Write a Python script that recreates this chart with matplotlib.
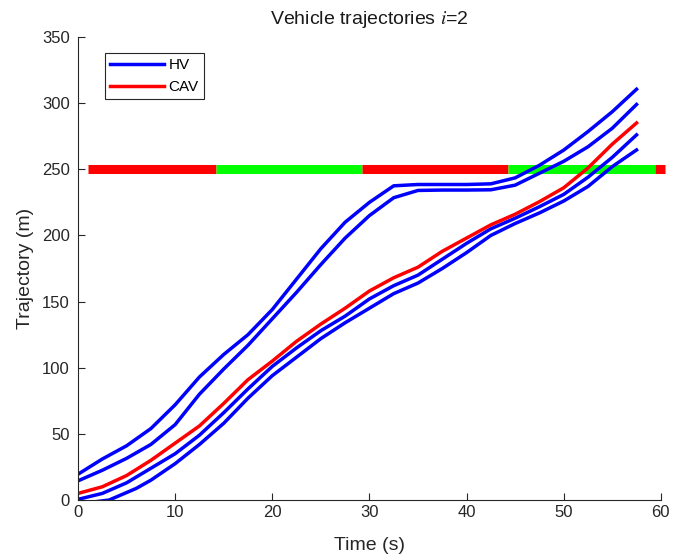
import matplotlib
matplotlib.use('Agg')
import matplotlib.pyplot as plt

plt.rcParams['font.family'] = ['Liberation Sans', 'DejaVu Sans']
plt.rcParams['mathtext.fontset'] = 'stix'

# trayectorias (t en s, posicion en m)
t_hv1 = [0, 2.5, 5, 7.5, 10, 12.5, 15, 17.5, 20, 22.5, 25, 27.5, 30, 32.5,
         35, 37.5, 40, 42.5, 45, 47.5, 50, 52.5, 55, 57.5]
x_hv1 = [19.5, 31, 41, 54, 72, 93, 110, 125, 144, 167, 190, 210, 225, 237.5,
         238.5, 238.5, 238.5, 239, 243.5, 253, 264.5, 278.5, 293.5, 310.5]

t_hv2 = [0, 2.5, 5, 7.5, 10, 12.5, 15, 17.5, 20, 22.5, 25, 27.5, 30, 32.5,
         35, 37.5, 40, 42.5, 45, 47.5, 50, 52.5, 55, 57.5]
x_hv2 = [14.5, 22.5, 31.5, 42, 57, 80, 99, 117, 137, 157, 178, 198, 215,
         228.5, 234, 234.3, 234.3, 234.5, 238, 247, 256, 267, 281, 299]

t_cav = [0, 2.5, 5, 7.5, 10, 12.5, 15, 17.5, 20, 22.5, 25, 27.5, 30, 32.5,
         35, 37.5, 40, 42.5, 45, 47.5, 50, 52.5, 55, 57.5]
x_cav = [5, 10, 18.5, 30, 43, 56, 73, 91, 105, 120, 133, 145, 158, 168,
         176, 188, 198, 208, 216, 225.5, 236, 251, 269, 285]

t_hv3 = [0, 2.5, 5, 7.5, 10, 12.5, 15, 17.5, 20, 22.5, 25, 27.5, 30, 32.5,
         35, 37.5, 40, 42.5, 45, 47.5, 50, 52.5, 55, 57.5]
x_hv3 = [0.5, 5, 13, 24, 35, 49, 66, 84, 101, 115, 128, 139, 152, 162,
         170, 182, 194, 205, 213, 221.7, 231, 244, 259, 276]

t_hv4 = [0, 3.2, 6, 7.5, 10, 12.5, 15, 17.5, 20, 22.5, 25, 27.5, 30, 32.5,
         35, 37.5, 40, 42.5, 45, 47.5, 50, 52.5, 55, 57.5]
x_hv4 = [-3, 0, 8.8, 15, 27.5, 42, 58, 77, 94, 108, 122, 134, 145, 156,
         164, 175, 187, 200, 209, 217, 226, 237, 252, 264.6]

# semaforo en x=250
sig_edges = [1, 14.2, 29.2, 44.3, 59.4, 60.4]
sig_colors = [(1, 0, 0), (0, 1, 0), (1, 0, 0), (0, 1, 0), (1, 0, 0)]
sig_pos = 250

fig = plt.figure(figsize=(6.75, 5.57), dpi=100)
ax = fig.add_axes([0.1156, 0.1023, 0.8634, 0.8313])

for i in range(len(sig_colors)):
    ax.plot(sig_edges[i:i + 2], [sig_pos, sig_pos], color=sig_colors[i],
            lw=6.5, solid_capstyle='butt', clip_on=False)

blue = (0, 0, 1)
red = (1, 0, 0)
lw = 2.5
ax.plot(t_hv1, x_hv1, color=blue, lw=lw, label='HV')
ax.plot(t_hv2, x_hv2, color=blue, lw=lw)
ax.plot(t_hv3, x_hv3, color=blue, lw=lw)
ax.plot(t_hv4, x_hv4, color=blue, lw=lw)
ax.plot(t_cav, x_cav, color=red, lw=lw, label='CAV')

ax.set_xlim(0, 60)
ax.set_ylim(0, 350)
ax.set_xticks(range(0, 61, 10))
ax.set_yticks(range(0, 351, 50))
ax.spines['top'].set_visible(False)
ax.spines['right'].set_visible(False)
for s in ['left', 'bottom']:
    ax.spines[s].set_color('0.15')
ax.tick_params(direction='in', length=5, colors='0.15', labelsize=12)
ax.tick_params(axis='y', pad=6)
ax.set_xlabel('Time (s)', fontsize=14, color='0.15', labelpad=12)
ax.set_ylabel('Trajectory (m)', fontsize=14, color='0.15', labelpad=5.5)
ax.set_title(r'Vehicle trajectories $i$=2', fontsize=14, color='0.1', pad=9)

leg = ax.legend(loc='upper left', bbox_to_anchor=(0.0463, 0.9654),
                fontsize=11, fancybox=False, edgecolor='0.15',
                handlelength=3.5, handletextpad=0.3, borderpad=0.35,
                borderaxespad=0, framealpha=1)
leg.get_frame().set_linewidth(0.8)

fig.savefig('out.png', dpi=100)
